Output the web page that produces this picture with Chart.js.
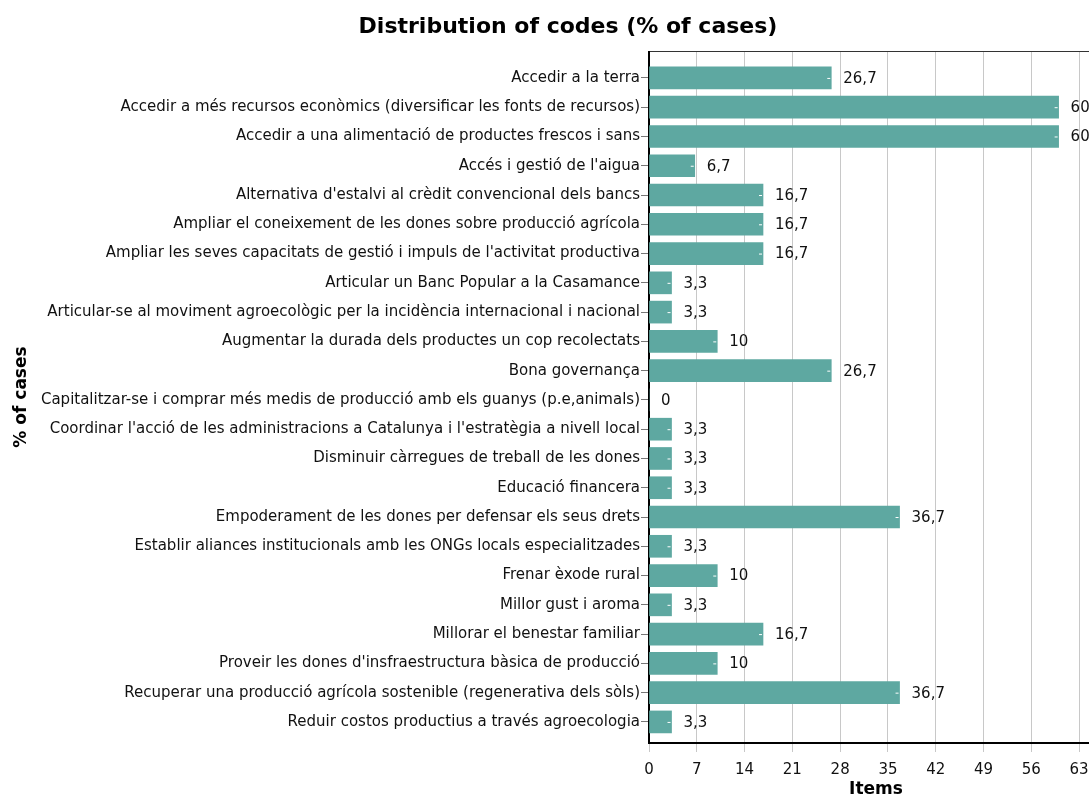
<!DOCTYPE html>
<html>
<head>
<meta charset="utf-8">
<script src="https://cdn.jsdelivr.net/npm/chart.js@4"></script>
<style>
  html, body { margin: 0; padding: 0; background: #fff; overflow: hidden; }
  #wrap { width: 1136px; height: 796px; position: relative; }
</style>
</head>
<body>
<div id="wrap"><canvas id="chart"></canvas></div>
<script>
// categories (top to bottom)
const categories = [
  'Accedir a la terra',
  'Accedir a més recursos econòmics (diversificar les fonts de recursos)',
  'Accedir a una alimentació de productes frescos i sans',
  "Accés i gestió de l'aigua",
  "Alternativa d'estalvi al crèdit convencional dels bancs",
  'Ampliar el coneixement de les dones sobre producció agrícola',
  "Ampliar les seves capacitats de gestió i impuls de l'activitat productiva",
  'Articular un Banc Popular a la Casamance',
  'Articular-se al moviment agroecològic per la incidència internacional i nacional',
  'Augmentar la durada dels productes un cop recolectats',
  'Bona governança',
  'Capitalitzar-se i comprar més medis de producció amb els guanys (p.e,animals)',
  "Coordinar l'acció de les administracions a Catalunya i l'estratègia a nivell local",
  'Disminuir càrregues de treball de les dones',
  'Educació financera',
  'Empoderament de les dones per defensar els seus drets',
  'Establir aliances institucionals amb les ONGs locals especialitzades',
  'Frenar èxode rural',
  'Millor gust i aroma',
  'Millorar el benestar familiar',
  "Proveir les dones d'insfraestructura bàsica de producció",
  'Recuperar una producció agrícola sostenible (regenerativa dels sòls)',
  'Reduir costos productius a través agroecologia'
];

// % of cases
const values = [26.7, 60, 60, 6.7, 16.7, 16.7, 16.7, 3.3, 3.3, 10, 26.7, 0, 3.3, 3.3, 3.3, 36.7, 3.3, 10, 3.3, 16.7, 10, 36.7, 3.3];

const xTicks = [0, 7, 14, 21, 28, 35, 42, 49, 56, 63];

const chartTitle = 'Distribution of codes (% of cases)';
const barColor = '#5ea8a1';
const fontFamily = '"DejaVu Sans", Verdana, sans-serif';

// title centred on the full (uncropped) figure width
const titlePlugin = {
  id: 'figTitle',
  afterDraw(chart) {
    const { ctx } = chart;
    ctx.save();
    ctx.font = 'bold 22px ' + fontFamily;
    ctx.fillStyle = '#000';
    ctx.textAlign = 'center';
    ctx.textBaseline = 'middle';
    ctx.fillText(chartTitle, chart.width / 2, 27);
    ctx.restore();
  }
};

// frame around the plot (top, left, bottom)
const framePlugin = {
  id: 'frame',
  beforeDatasetsDraw(chart) {
    const { ctx, chartArea: a } = chart;
    ctx.save();
    ctx.strokeStyle = '#333';
    ctx.lineWidth = 1;
    ctx.beginPath();
    ctx.moveTo(a.left, a.top + 0.5);
    ctx.lineTo(a.right, a.top + 0.5);
    ctx.stroke();
    ctx.strokeStyle = '#000';
    ctx.lineWidth = 2;
    ctx.beginPath();
    ctx.moveTo(a.left, a.top);
    ctx.lineTo(a.left, a.bottom);
    ctx.lineTo(a.right, a.bottom);
    ctx.stroke();
    ctx.restore();
  }
};

// value labels at bar ends
const valueLabels = {
  id: 'valueLabels',
  afterDatasetsDraw(chart) {
    const { ctx } = chart;
    const meta = chart.getDatasetMeta(0);
    ctx.save();
    ctx.font = '15px ' + fontFamily;
    ctx.fillStyle = '#111';
    ctx.textBaseline = 'middle';
    meta.data.forEach((bar, i) => {
      const v = values[i];
      if (v > 0) {
        ctx.strokeStyle = '#fff';
        ctx.lineWidth = 1;
        ctx.beginPath();
        ctx.moveTo(bar.x - 4, bar.y + 0.5);
        ctx.lineTo(bar.x - 1, bar.y + 0.5);
        ctx.stroke();
      }
      ctx.fillText(String(v).replace('.', ','), bar.x + 12, bar.y + 1);
    });
    ctx.restore();
  }
};

const ctx = document.getElementById('chart').getContext('2d');
new Chart(ctx, {
  type: 'bar',
  data: {
    datasets: [{
      data: values.map((v, i) => ({ x: v, y: i })),
      backgroundColor: barColor,
      borderWidth: 0,
      barThickness: 22
    }]
  },
  options: {
    indexAxis: 'y',
    responsive: true,
    maintainAspectRatio: false,
    animation: false,
    layout: { padding: { left: 0, right: 33, top: 51, bottom: 0 } },
    plugins: {
      legend: { display: false },
      tooltip: { enabled: false },
      title: { display: false }
    },
    scales: {
      x: {
        type: 'linear',
        min: 0,
        max: 66.5,
        afterBuildTicks: s => { s.ticks = xTicks.map(v => ({ value: v })); },
        afterFit: s => { s.height = 53; },
        border: { display: false },
        grid: {
          color: '#c8c8c8',
          lineWidth: 1,
          tickLength: 9,
          tickColor: '#c8c8c8'
        },
        ticks: {
          color: '#111',
          padding: 9,
          font: { family: fontFamily, size: 15 }
        },
        title: {
          display: true,
          text: 'Items',
          color: '#000',
          font: { family: fontFamily, size: 17, weight: 'bold' },
          padding: { top: 0, bottom: -4 }
        }
      },
      y: {
        type: 'linear',
        reverse: true,
        offset: false,
        min: -0.92,
        max: 22.72,
        afterBuildTicks: s => { s.ticks = categories.map((c, i) => ({ value: i })); },
        afterFit: s => { s.width = 649; },
        border: { display: false },
        grid: {
          offset: false,
          drawOnChartArea: false,
          tickLength: 8,
          tickColor: '#777'
        },
        ticks: {
          color: '#111',
          padding: 1,
          autoSkip: false,
          font: { family: fontFamily, size: 15 },
          callback: v => categories[v]
        },
        title: {
          display: true,
          text: '% of cases',
          color: '#000',
          font: { family: fontFamily, size: 17, weight: 'bold' },
          padding: { top: 11, bottom: 0 }
        }
      }
    }
  },
  plugins: [framePlugin, valueLabels, titlePlugin]
});
</script>
</body>
</html>
